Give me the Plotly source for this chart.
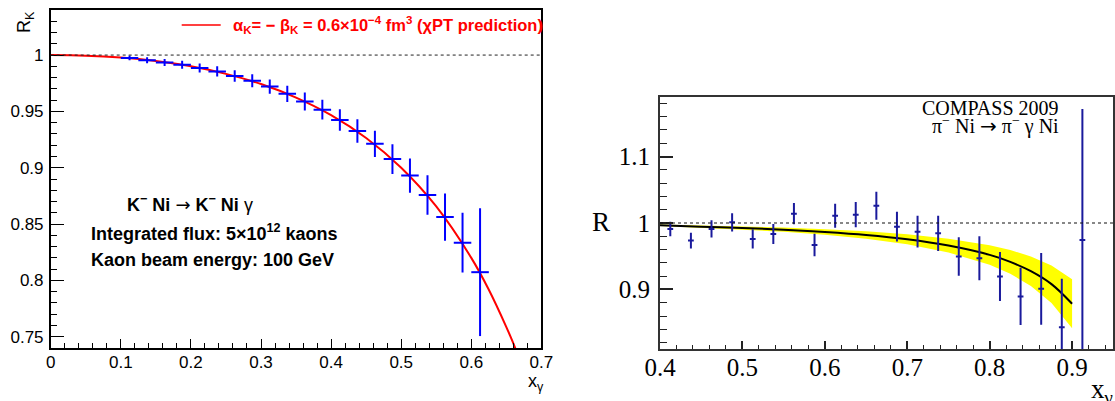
import plotly.graph_objects as go

W, H = 1115, 401

# ---------------- data: left panel (kaon, simulated) ----------------
K_X = [0.1125, 0.1375, 0.1625, 0.1875, 0.2125, 0.2375, 0.2625, 0.2875, 0.3125, 0.3375,
       0.3625, 0.3875, 0.4125, 0.4375, 0.4625, 0.4875, 0.5125, 0.5375, 0.5625, 0.5875, 0.6125]
K_R = [0.9975, 0.9954, 0.9935, 0.9914, 0.9885, 0.9855, 0.9815, 0.9772, 0.9720, 0.9656,
       0.9588, 0.9515, 0.9424, 0.9326, 0.9212, 0.9077, 0.8930, 0.8758, 0.8562, 0.8335, 0.8073]
K_ERR = [0.0022, 0.0027, 0.0031, 0.0035, 0.0040, 0.0045, 0.0051, 0.0057, 0.0064, 0.0072,
         0.0080, 0.0088, 0.0096, 0.0105, 0.0116, 0.0132, 0.0152, 0.0176, 0.0210, 0.0265, 0.0567]
K_XERR = 0.0125

K_CURVE_X = [0, 0.05, 0.1, 0.15, 0.2, 0.25, 0.3, 0.35, 0.4, 0.45, 0.5, 0.55, 0.6, 0.625, 0.65, 0.66, 0.67]
K_CURVE_Y = [1.0, 0.9995, 0.9978, 0.9947, 0.990, 0.9833, 0.9743, 0.9623, 0.9467, 0.9264,
             0.900, 0.8656, 0.820, 0.7917, 0.7586, 0.744, 0.728]

K_YTICKS = [0.75, 0.8, 0.85, 0.9, 0.95, 1.0]
K_YTICKTEXT = ["0.75", "0.8", "0.85", "0.9", "0.95", "1"]
K_XTICKS = [0, 0.1, 0.2, 0.3, 0.4, 0.5, 0.6, 0.7]
K_XTICKTEXT = ["0", "0.1", "0.2", "0.3", "0.4", "0.5", "0.6", "0.7"]

# ---------------- data: right panel (COMPASS 2009 pion) ----------------
PI_X = [0.4125, 0.4375, 0.4625, 0.4875, 0.5125, 0.5375, 0.5625, 0.5875, 0.6125, 0.6375,
        0.6625, 0.6875, 0.7125, 0.7375, 0.7625, 0.7875, 0.8125, 0.8375, 0.8625, 0.8875, 0.9125]
PI_R = [0.991, 0.9735, 0.991, 1.001, 0.976, 0.9835, 1.014, 0.967, 1.011, 1.0125,
        1.026, 0.9945, 0.987, 0.9845, 0.9495, 0.947, 0.9195, 0.8895, 0.901, 0.843, 0.9745]
PI_ERR = [0.011, 0.012, 0.013, 0.0137, 0.0145, 0.015, 0.016, 0.017, 0.018, 0.019,
          0.021, 0.0225, 0.024, 0.0265, 0.029, 0.033, 0.037, 0.043, 0.054, 0.073, 0.197]
PI_XERR = 0.0035

PI_CURVE_X = [0.4, 0.45, 0.5, 0.55, 0.6, 0.65, 0.7, 0.75, 0.8, 0.825, 0.85, 0.875, 0.9]
PI_CURVE_Y = [0.9965, 0.9945, 0.9925, 0.990, 0.9865, 0.982, 0.9755, 0.966, 0.952, 0.9415,
              0.9275, 0.908, 0.8785]
PI_BAND_UP = [0.9977, 0.9962, 0.9948, 0.9931, 0.9906, 0.9876, 0.9830, 0.9764, 0.9667, 0.9594,
              0.9497, 0.9362, 0.9155]
PI_BAND_LO = [0.9953, 0.9928, 0.9902, 0.9869, 0.9824, 0.9764, 0.9680, 0.9556, 0.9373, 0.9236,
              0.9053, 0.8798, 0.8415]

PI_YTICKS = [0.9, 1.0, 1.1]
PI_YTICKTEXT = ["0.9", "1", "1.1"]
PI_XTICKS = [0.4, 0.5, 0.6, 0.7, 0.8, 0.9]
PI_XTICKTEXT = ["0.4", "0.5", "0.6", "0.7", "0.8", "0.9"]

REF_LEVEL = 1.0

SANS = "Liberation Sans, Arial, sans-serif"
SERIF = "Liberation Serif, Times New Roman, serif"
ARROW = '<span style="font-family:DejaVu Sans">→</span>'


def px(x):
    return x / W


def py(y):
    return 1 - y / H


fig = go.Figure()

# left panel
fig.add_trace(go.Scatter(
    x=K_CURVE_X, y=K_CURVE_Y, mode="lines", line=dict(color="#ff0000", width=2, shape="spline"),
    xaxis="x", yaxis="y", showlegend=False, hoverinfo="skip"))
fig.add_trace(go.Scatter(
    x=K_X, y=K_R, mode="markers", marker=dict(size=1, color="#0000ff"),
    error_y=dict(type="data", array=K_ERR, visible=True, color="#0000ff", thickness=2, width=0),
    error_x=dict(type="constant", value=K_XERR, visible=True, color="#0000ff", thickness=2, width=0),
    xaxis="x", yaxis="y", showlegend=False))

# right panel
fig.add_trace(go.Scatter(
    x=PI_CURVE_X, y=PI_BAND_LO, mode="lines", line=dict(width=0, color="#ffff00"),
    xaxis="x2", yaxis="y2", showlegend=False, hoverinfo="skip"))
fig.add_trace(go.Scatter(
    x=PI_CURVE_X, y=PI_BAND_UP, mode="lines", line=dict(width=0, color="#ffff00"),
    fill="tonexty", fillcolor="#ffff00",
    xaxis="x2", yaxis="y2", showlegend=False, hoverinfo="skip"))
fig.add_trace(go.Scatter(
    x=PI_CURVE_X, y=PI_CURVE_Y, mode="lines", line=dict(color="#000000", width=2, shape="spline"),
    xaxis="x2", yaxis="y2", showlegend=False, hoverinfo="skip"))
fig.add_trace(go.Scatter(
    x=PI_X, y=PI_R, mode="markers", marker=dict(size=1, color="#1a1a9c"),
    error_y=dict(type="data", array=PI_ERR, visible=True, color="#1a1a9c", thickness=2, width=0),
    error_x=dict(type="constant", value=PI_XERR, visible=True, color="#1a1a9c", thickness=2, width=0),
    xaxis="x2", yaxis="y2", showlegend=False))

# frame pixel geometry
L_X0, L_X1, L_Y0, L_Y1 = 50.7, 541.4, 10, 348
R_X0, R_X1, R_Y0, R_Y1 = 660, 1113.3, 96.7, 349.3

common_axis = dict(showgrid=False, zeroline=False, showline=True, mirror=True, ticks="inside",
                   automargin=False)

fig.update_layout(
    width=W, height=H, margin=dict(l=0, r=0, t=0, b=0, pad=0, autoexpand=False),
    paper_bgcolor="white", plot_bgcolor="white",
    xaxis=dict(**common_axis, domain=[px(L_X0), px(L_X1)], range=[0, 0.7], anchor="y",
               tickmode="array", tickvals=K_XTICKS, ticktext=K_XTICKTEXT,
               ticklen=9, tickwidth=1, tickcolor="black", linecolor="black", linewidth=1.5,
               minor=dict(ticks="inside", tickmode="linear", tick0=0, dtick=0.02, ticklen=5,
                          tickwidth=1, tickcolor="black"),
               tickfont=dict(family=SANS, size=17, color="black"), ticklabelstandoff=-2),
    yaxis=dict(**common_axis, domain=[py(L_Y1), py(L_Y0)], range=[0.74, 1.04], anchor="x",
               tickmode="array", tickvals=K_YTICKS, ticktext=K_YTICKTEXT,
               ticklen=14, tickwidth=1, tickcolor="black", linecolor="black", linewidth=1.5,
               minor=dict(ticks="inside", tickmode="linear", tick0=0, dtick=0.01, ticklen=7,
                          tickwidth=1, tickcolor="black"),
               tickfont=dict(family=SANS, size=17, color="black"), ticklabelstandoff=2),
    xaxis2=dict(**common_axis, domain=[px(R_X0), px(R_X1)], range=[0.4, 0.95], anchor="y2",
                tickmode="array", tickvals=PI_XTICKS, ticktext=PI_XTICKTEXT,
                ticklen=8, tickwidth=1.5, tickcolor="#222", linecolor="#333", linewidth=2,
                minor=dict(ticks="inside", tickmode="linear", tick0=0, dtick=0.02, ticklen=4.5,
                           tickwidth=1, tickcolor="#222"),
                tickfont=dict(family=SERIF, size=25, color="black"), ticklabelstandoff=-5),
    yaxis2=dict(**common_axis, domain=[py(R_Y1), py(R_Y0)], range=[0.81, 1.19], anchor="x2",
                tickmode="array", tickvals=PI_YTICKS, ticktext=PI_YTICKTEXT,
                ticklen=13, tickwidth=1.5, tickcolor="#222", linecolor="#333", linewidth=2,
                minor=dict(ticks="inside", tickmode="linear", tick0=0, dtick=0.02, ticklen=7,
                           tickwidth=1, tickcolor="#222"),
                tickfont=dict(family=SERIF, size=25, color="black"), ticklabelstandoff=3),
)

# reference dashed lines at R = 1
fig.add_shape(type="line", xref="x domain", yref="y", x0=0, x1=1, y0=REF_LEVEL, y1=REF_LEVEL,
              line=dict(color="#222", width=1, dash="3px,3px"))
fig.add_shape(type="line", xref="x2 domain", yref="y2", x0=0, x1=1, y0=REF_LEVEL, y1=REF_LEVEL,
              line=dict(color="#111", width=1.2, dash="3px,3px"))

# legend sample line (left panel)
fig.add_shape(type="line", xref="paper", yref="paper", x0=px(181.7), x1=px(220.7),
              y0=py(25), y1=py(25), line=dict(color="#ff0000", width=1.5))

ann = []
ann.append(dict(x=px(231), y=py(25), xref="paper", yref="paper", xanchor="left", yanchor="middle",
                text="<b>α<sub>K</sub>= − β<sub>K</sub> = 0.6×10<sup>−4</sup> fm<sup>3</sup> (χPT prediction)</b>",
                showarrow=False, font=dict(family=SANS, size=16.5, color="#ff0000")))
ann.append(dict(x=px(125), y=py(203), xref="paper", yref="paper", xanchor="left", yanchor="middle",
                text="<b>K<sup>−</sup> Ni</b> " + ARROW + " <b>K<sup>−</sup> Ni</b> γ",
                showarrow=False, font=dict(family=SANS, size=18, color="black")))
ann.append(dict(x=px(88.6), y=py(232), xref="paper", yref="paper", xanchor="left", yanchor="middle",
                text="<b>Integrated flux: 5×10<sup>12</sup> kaons</b>",
                showarrow=False, font=dict(family=SANS, size=18, color="black")))
ann.append(dict(x=px(88.6), y=py(260), xref="paper", yref="paper", xanchor="left", yanchor="middle",
                text="<b>Kaon beam energy: 100 GeV</b>",
                showarrow=False, font=dict(family=SANS, size=18, color="black")))
# axis titles left
ann.append(dict(x=px(25), y=py(22), xref="paper", yref="paper", xanchor="center", yanchor="middle",
                text="R<sub>K</sub>", textangle=-90,
                showarrow=False, font=dict(family=SANS, size=18, color="black")))
ann.append(dict(x=px(526), y=py(382), xref="paper", yref="paper", xanchor="left", yanchor="middle",
                text="x<sub>γ</sub>",
                showarrow=False, font=dict(family=SANS, size=18, color="black")))
# right panel texts
ann.append(dict(x=px(1061), y=py(108), xref="paper", yref="paper", xanchor="right", yanchor="middle",
                text="COMPASS 2009",
                showarrow=False, font=dict(family=SERIF, size=20, color="black")))
ann.append(dict(x=px(1061), y=py(126), xref="paper", yref="paper", xanchor="right", yanchor="middle",
                text="π<sup>−</sup> Ni " + ARROW + " π<sup>−</sup> γ Ni",
                showarrow=False, font=dict(family=SERIF, size=20, color="black")))
ann.append(dict(x=px(601), y=py(222), xref="paper", yref="paper", xanchor="center", yanchor="middle",
                text="R",
                showarrow=False, font=dict(family=SERIF, size=27, color="black")))
ann.append(dict(x=px(1089), y=py(391), xref="paper", yref="paper", xanchor="left", yanchor="middle",
                text="x<sub>γ</sub>",
                showarrow=False, font=dict(family=SERIF, size=27, color="black")))
fig.update_layout(annotations=ann)

fig.write_html("out.html", config={"displayModeBar": False},
               post_script="document.body.style.margin='0';document.body.style.overflow='hidden';")
